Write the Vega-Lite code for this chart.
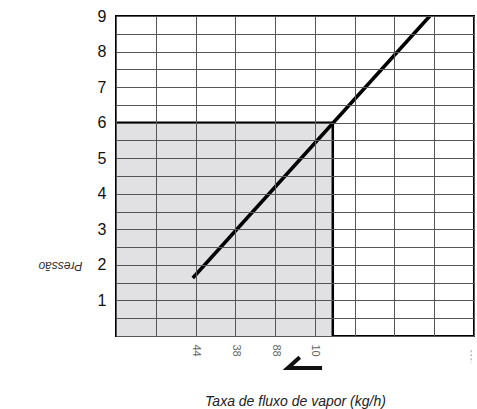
{
  "$schema": "https://vega.github.io/schema/vega-lite/v6.json",
  "width": 358,
  "height": 320,
  "autosize": {"type": "none"},
  "padding": {"left": 116, "top": 16, "right": 3, "bottom": 73},
  "background": "#ffffff",
  "config": {
    "view": {"stroke": "#000000", "strokeWidth": 2},
    "font": "Liberation Sans"
  },
  "encoding": {
    "x": {
      "field": "x", "type": "quantitative",
      "scale": {"domain": [0, 9], "nice": false, "zero": false},
      "axis": {
        "values": [0, 1, 2, 3, 4, 5, 6, 7, 8, 9],
        "labelExpr": "datum.value == 2 ? '44' : datum.value == 3 ? '38' : datum.value == 4 ? '88' : datum.value == 5 ? '10' : ''",
        "labelAngle": 90, "labelAlign": "left", "labelBaseline": "middle",
        "labelFontSize": 11, "labelColor": "#666666", "labelPadding": 8,
        "ticks": false, "domain": false,
        "grid": true, "gridColor": "#555555", "gridWidth": 1, "gridOpacity": 1,
        "zindex": 1,
        "title": "Taxa de fluxo de vapor (kg/h)",
        "titleFontStyle": "italic", "titleFontWeight": "normal", "titleFontSize": 14,
        "titleColor": "#222222", "titleY": 65, "titleBaseline": "middle"
      }
    },
    "y": {
      "field": "y", "type": "quantitative",
      "scale": {"domain": [0, 9], "nice": false, "zero": false},
      "axis": {
        "values": [0, 0.5, 1, 1.5, 2, 2.5, 3, 3.5, 4, 4.5, 5, 5.5, 6, 6.5, 7, 7.5, 8, 8.5, 9],
        "labelExpr": "datum.value > 0 && datum.value % 1 == 0 ? format(datum.value, 'd') : ''",
        "labelFontSize": 16, "labelColor": "#111111", "labelPadding": 10,
        "ticks": false, "domain": false,
        "grid": true, "gridColor": "#555555", "gridWidth": 1, "gridOpacity": 1,
        "zindex": 1,
        "title": "Pressão",
        "titleAngle": 180, "titleFontStyle": "italic", "titleFontWeight": "normal",
        "titleFontSize": 12, "titleColor": "#333333",
        "titleX": -56, "titleY": 249, "titleAlign": "center", "titleBaseline": "middle"
      }
    }
  },
  "layer": [
    {
      "data": {"values": [{"x": 0, "xe": 5.45, "y": 0, "ye": 6}]},
      "mark": {"type": "rect", "color": "#e1e1e4"},
      "encoding": {"x2": {"field": "xe"}, "y2": {"field": "ye"}}
    },
    {
      "data": {"values": [
        {"x": 0, "y": 6, "o": 1},
        {"x": 5.45, "y": 6, "o": 2},
        {"x": 5.45, "y": 0, "o": 3}
      ]},
      "mark": {"type": "line", "color": "#000000", "strokeWidth": 2.5, "zindex": 2},
      "encoding": {"order": {"field": "o", "type": "quantitative"}}
    },
    {
      "data": {"values": [
        {"x": 1.93, "y": 1.63, "o": 1},
        {"x": 7.89, "y": 9, "o": 2}
      ]},
      "mark": {"type": "line", "color": "#000000", "strokeWidth": 3.5, "zindex": 2},
      "encoding": {"order": {"field": "o", "type": "quantitative"}}
    },
    {
      "data": {"values": [
        {"x": 4.62, "y": -0.6, "o": 1},
        {"x": 4.32, "y": -0.9, "o": 2},
        {"x": 5.18, "y": -0.9, "o": 3}
      ]},
      "mark": {"type": "line", "color": "#111111", "strokeWidth": 4, "clip": false},
      "encoding": {"order": {"field": "o", "type": "quantitative"}}
    },
    {
      "data": {"values": [{"x": 8.93, "y": -0.4, "ye": -0.75}]},
      "mark": {"type": "rule", "color": "#bbbbbb", "strokeWidth": 1.5, "strokeDash": [2, 2], "clip": false},
      "encoding": {"y2": {"field": "ye"}}
    }
  ]
}
